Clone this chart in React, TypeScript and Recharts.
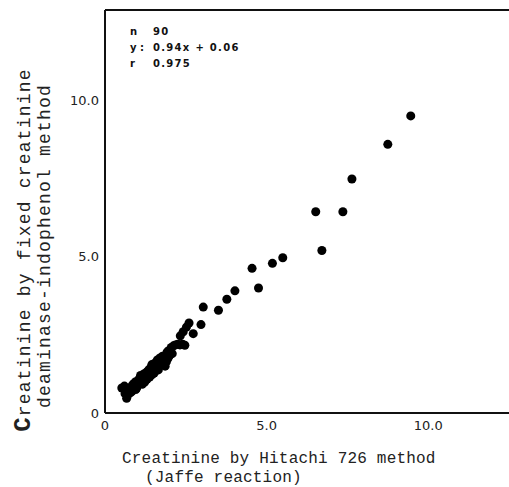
import {
  ScatterChart,
  Scatter,
  XAxis,
  YAxis,
  ZAxis,
  ReferenceLine,
  Customized,
} from 'recharts';

// Hitachi 726 (x) vs fixed deaminase-indophenol (y), mg/dl
const clusterX = [
  0.52, 0.6, 0.67, 0.62, 0.7, 0.75, 0.78, 0.83, 0.85, 0.88, 0.9, 0.92, 0.95, 0.98, 1.0, 1.02,
  1.05, 1.08, 1.1, 1.12, 1.15, 1.18, 1.2, 1.22, 1.25, 1.28, 1.3, 1.32, 1.35, 1.38, 1.4, 1.42,
  1.45, 1.48, 1.5, 1.52, 1.55, 1.58, 1.6, 1.62, 1.65, 1.68, 1.7, 1.66, 1.75, 1.78, 1.8, 1.82,
  1.86, 1.88, 1.9, 1.92, 1.95, 1.98, 2.0, 2.05, 2.08, 2.12, 2.18, 2.25, 2.32, 2.4, 2.47, 1.25,
  0.95, 1.45, 0.72, 1.1,
];
const clusterY = [
  0.8, 0.86, 0.47, 0.62, 0.72, 0.8, 0.65, 0.69, 0.9, 0.78, 0.95, 0.84, 0.75, 0.8, 1.0, 0.9,
  1.08, 0.95, 1.15, 1.02, 0.92, 1.1, 1.25, 0.98, 1.18, 1.3, 1.08, 1.2, 1.38, 1.15, 1.3, 1.45,
  1.22, 1.35, 1.5, 1.28, 1.6, 1.42, 1.55, 1.7, 1.38, 1.62, 1.76, 1.58, 1.68, 1.82, 1.62, 1.72,
  1.5, 1.85, 1.64, 1.95, 1.75, 2.0, 1.85, 2.1, 1.9, 2.15, 2.18, 2.2, 2.18, 2.2, 2.17, 1.05,
  1.0, 1.55, 0.6, 1.2,
];
const upperX = [
  2.33, 2.42, 2.52, 2.6, 2.73, 2.97, 3.04, 3.51, 3.77, 4.02, 4.55, 4.75, 5.18, 5.5, 6.52, 6.71,
  7.36, 7.64, 8.75, 9.46,
];
const upperY = [
  2.47, 2.6, 2.75, 2.88, 2.54, 2.83, 3.39, 3.29, 3.64, 3.91, 4.63, 4.0, 4.79, 4.97, 6.44, 5.2,
  6.44, 7.49, 8.6, 9.51,
];

const xTicks = [0, 5, 10];
const yTicks = [0, 5, 10];
const tickLabels = ['0', '5.0', '10.0'];
const statLabels = ['n', 'y :', 'r'];
const statValues = ['90', '0.94x + 0.06', '0.975'];

const X_MAX = 12.5;
const Y_MAX = 12.9;

const points = [...clusterX, ...upperX].map((x, i) => ({
  x,
  y: [...clusterY, ...upperY][i],
}));

const fmt = (v: number) => tickLabels[xTicks.indexOf(v)] ?? String(v);

const mono = '"Liberation Mono", "DejaVu Sans Mono", monospace';

function Annotations() {
  return (
    <g>
      {statLabels.map((s, i) => (
        <g key={s} fontFamily="DejaVu Sans, sans-serif" fontSize={10} fontWeight="bold" fill="#111">
          <text x={130} y={35 + i * 16}>{s}</text>
          <text x={153} y={35 + i * 16} letterSpacing={1.3}>
            {statValues[i]}
          </text>
        </g>
      ))}
      <g fontFamily={mono} fill="#222">
        <text transform="translate(30,250) rotate(-90)" textAnchor="middle" fontSize={18} letterSpacing={1.2}>
          <tspan fontSize={24} fontWeight="bold">C</tspan>reatinine by fixed creatinine
        </text>
        <text transform="translate(50,246) rotate(-90)" textAnchor="middle" fontSize={18} letterSpacing={1.2}>
          deaminase-indophenol method
        </text>
        <text x={122} y={463} fontSize={16} letterSpacing={0.2}>
          Creatinine by Hitachi 726 method
        </text>
        <text x={145} y={482} fontSize={16} letterSpacing={0.2}>
          (Jaffe reaction)
        </text>
      </g>
    </g>
  );
}

export default function App() {
  return (
    <div style={{ position: 'absolute', left: 0, top: 0, background: '#fff' }}>
      <ScatterChart
        width={509}
        height={487}
        margin={{ top: 10, right: 0, bottom: 44, left: 45 }}
      >
        <XAxis
          type="number"
          dataKey="x"
          domain={[0, X_MAX]}
          ticks={xTicks}
          tickFormatter={fmt}
          height={30}
          tickLine={false}
          tickSize={4}
          tickMargin={4}
          axisLine={{ stroke: '#111', strokeWidth: 2 }}
          tick={{ fill: '#222', fontSize: 13, fontFamily: 'DejaVu Sans, sans-serif' }}
        />
        <YAxis
          type="number"
          dataKey="y"
          domain={[0, Y_MAX]}
          ticks={yTicks}
          tickFormatter={fmt}
          width={60}
          tickLine={false}
          tickSize={4}
          tickMargin={2}
          axisLine={{ stroke: '#111', strokeWidth: 2 }}
          tick={{ fill: '#222', fontSize: 13, fontFamily: 'DejaVu Sans, sans-serif' }}
        />
        <ZAxis range={[38, 38]} />
        <ReferenceLine y={Y_MAX} stroke="#111" strokeWidth={2} />
        <Scatter data={points} fill="#000" isAnimationActive={false} />
        <Customized component={Annotations} />
      </ScatterChart>
    </div>
  );
}
